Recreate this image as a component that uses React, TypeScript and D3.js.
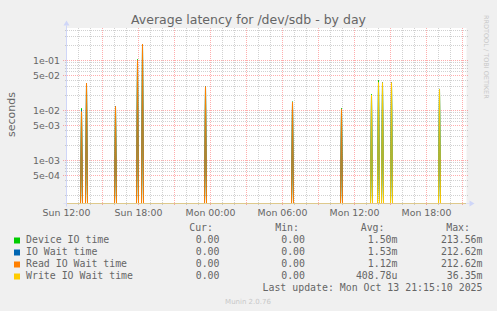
import React from "react";
import * as d3 from "d3";

// ---- data ----
const startTime = "2025-10-12T12:00";
const sampleMinutes = 5;
const sampleCount = 400;

const spikeTimes = [
  "2025-10-12T13:15", "2025-10-12T13:40", "2025-10-12T16:05", "2025-10-12T17:55",
  "2025-10-12T18:20", "2025-10-12T23:35", "2025-10-13T06:50", "2025-10-13T10:55",
  "2025-10-13T13:25", "2025-10-13T14:00", "2025-10-13T14:20", "2025-10-13T15:05",
  "2025-10-13T19:05",
];
const deviceIO = [0.011, 0.033, 0.012, 0.105, 0.2136, 0.030, 0.0150, 0.0110, 0.021, 0.040, 0.036, 0.036, 0.027];
const ioWait = [0.0100, 0.035, 0.012, 0.100, 0.2126, 0.030, 0.0148, 0.0107, 0.0204, 0.0364, 0.036, 0.036, 0.0265];
const readWait = [0.0095, 0.035, 0.012, 0.100, 0.2126, 0.030, 0.0148, 0.0107, 0, 0, 0, 0, 0];
const writeWait = [0, 0, 0, 0, 0, 0, 0, 0, 0.0204, 0.03635, 0.036, 0.036, 0.0265];

const seriesNames = ["Device IO time", "IO Wait time", "Read IO Wait time", "Write IO Wait time"];
const seriesColors = ["#00cc00", "#0066b3", "#ff8000", "#ffcc00"];
const curValues = ["0.00", "0.00", "0.00", "0.00"];
const minValues = ["0.00", "0.00", "0.00", "0.00"];
const avgValues = ["1.50m", "1.53m", "1.12m", "408.78u"];
const maxValues = ["213.56m", "212.62m", "212.62m", "36.35m"];

const xTickTimes = ["2025-10-12T12:00", "2025-10-12T18:00", "2025-10-13T00:00", "2025-10-13T06:00", "2025-10-13T12:00", "2025-10-13T18:00"];
const xTickLabels = ["Sun 12:00", "Sun 18:00", "Mon 00:00", "Mon 06:00", "Mon 12:00", "Mon 18:00"];
const yTickLabels = ["5e-04", "1e-03", "5e-03", "1e-02", "5e-02", "1e-01"];
const yMin = 1.38e-4;
const yMax = 0.4365;

const title = "Average latency for /dev/sdb - by day";
const yTitle = "seconds";
const lastUpdate = "Last update: Mon Oct 13 21:15:10 2025";
const version = "Munin 2.0.76";
const sideText = "RRDTOOL / TOBI OETIKER";

const FONT = "'DejaVu Sans', sans-serif";
const MONO = "'DejaVu Sans Mono', monospace";
const TXT = "#666666";
const MAJOR = "rgba(255,0,0,0.32)";
const MINOR = "rgba(140,140,140,0.4)";

export default function App() {
  const W = 497, H = 311;
  const left = 66.5, right = 466.5, top = 28.5, bottom = 203.5;
  const start = new Date(startTime);
  const end = new Date(start.getTime() + sampleCount * sampleMinutes * 60000);
  const x = d3.scaleTime().domain([start, end]).range([left, right]);
  const y = d3.scaleLog().domain([yMin, yMax]).range([bottom, top]).clamp(true);

  const sampleTimes = d3.range(sampleCount).map((i) => new Date(start.getTime() + i * sampleMinutes * 60000));
  const spikeMs = spikeTimes.map((s) => new Date(s).getTime());
  const allSeries = [deviceIO, ioWait, readWait, writeWait].map((vals) => {
    const m = new Map<number, number>();
    spikeMs.forEach((t, k) => m.set(t, vals[k]));
    return sampleTimes.map((t) => ({ t, v: m.get(t.getTime()) ?? 0 }));
  });

  const line = d3
    .line<{ t: Date; v: number }>()
    .x((d) => x(d.t))
    .y((d) => (d.v > 0 ? y(d.v) : bottom));

  // grid
  const hours = d3.timeHour.every(1)!.range(new Date(start.getTime() + 1), end);
  const yGrid: { v: number; major: boolean }[] = [];
  for (let e = -5; e <= 0; e++) {
    for (let k = 1; k <= 9; k++) {
      const v = k * Math.pow(10, e);
      if (v >= yMin && v <= yMax) yGrid.push({ v, major: k === 1 || k === 5 });
    }
  }
  const snap = (p: number) => Math.round(p - 0.5) + 0.5;

  const legendY0 = 243;
  const rowH = 12;

  return (
    <div style={{ position: "fixed", left: 0, top: 0, width: W, height: H }}>
      <svg width={W} height={H} viewBox={`0 0 ${W} ${H}`} style={{ display: "block" }}>
        <rect x={0} y={0} width={W} height={H} fill="#f0f0f0" />
        <rect x={left} y={top - 0.5} width={right - left} height={bottom - top + 0.5} fill="#ffffff" />

        {/* title */}
        <text x={W / 2} y={23.5} textAnchor="middle" fontFamily={FONT} fontSize={12.5} fill={TXT}>
          {title}
        </text>

        {/* side text */}
        <text transform={`translate(484,15) rotate(90)`} fontFamily={FONT} fontSize={6.5} fill="#c8c8c8">
          {sideText}
        </text>

        {/* vertical grid */}
        {hours.map((h, i) => {
          const major = h.getHours() % 3 === 0;
          const px = snap(x(h));
          return (
            <line
              key={"vg" + i}
              x1={px}
              x2={px}
              y1={top - 0.5}
              y2={major ? bottom + 2.5 : bottom + 1.5}
              stroke={major ? MAJOR : MINOR}
              strokeWidth={1}
              strokeDasharray="1,1"
            />
          );
        })}
        {/* horizontal grid */}
        {yGrid.map((g, i) => {
          const py = snap(y(g.v));
          return (
            <line
              key={"hg" + i}
              x1={g.major ? 63 : 65}
              x2={468}
              y1={py}
              y2={py}
              stroke={g.major ? MAJOR : MINOR}
              strokeWidth={1}
              strokeDasharray="1,1"
            />
          );
        })}

        {/* series */}
        {allSeries.map((s, i) => (
          <path key={"s" + i} d={line(s) || ""} fill="none" stroke={seriesColors[i]} strokeWidth={1} />
        ))}

        {/* axes */}
        <line x1={left - 3} x2={right + 3} y1={bottom} y2={bottom} stroke="#cfd6f8" strokeOpacity={0.55} />
        <path d={`M${right + 3},${bottom - 3} L${right + 8},${bottom} L${right + 3},${bottom + 3} Z`} fill="#cfd6f8" />
        <line x1={left} x2={left} y1={bottom + 3} y2={top - 3} stroke="#cfd6f8" />
        <path d={`M${left - 3},${top - 3} L${left},${top - 8} L${left + 3},${top - 3} Z`} fill="#cfd6f8" />

        {/* x tick labels */}
        {xTickTimes.map((t, i) => (
          <text key={"xt" + i} x={x(new Date(t))} y={216} textAnchor="middle" fontFamily={FONT} fontSize={9.4} fill={TXT}>
            {xTickLabels[i]}
          </text>
        ))}
        {/* y tick labels */}
        {yTickLabels.map((l, i) => (
          <text key={"yt" + i} x={60} y={y(Number(l)) + 3.5} textAnchor="end" fontFamily={FONT} fontSize={9.4} fill={TXT}>
            {l}
          </text>
        ))}
        <text transform={`translate(15,114.5) rotate(-90)`} textAnchor="middle" fontFamily={FONT} fontSize={11} fill={TXT}>
          {yTitle}
        </text>

        {/* legend */}
        <g fontFamily={MONO} fontSize={9.9} fill={TXT}>
          <text x={213} y={legendY0 - rowH} textAnchor="end">Cur:</text>
          <text x={299} y={legendY0 - rowH} textAnchor="end">Min:</text>
          <text x={384.5} y={legendY0 - rowH} textAnchor="end">Avg:</text>
          <text x={470} y={legendY0 - rowH} textAnchor="end">Max:</text>
          {seriesNames.map((n, i) => (
            <g key={"lg" + i}>
              <rect x={14} y={legendY0 - 5 + i * rowH - 0.5} width={6} height={6} fill={seriesColors[i]} />
              <text x={26} y={legendY0 + i * rowH}>{n}</text>
              <text x={219.5} y={legendY0 + i * rowH} textAnchor="end">{curValues[i]}</text>
              <text x={305} y={legendY0 + i * rowH} textAnchor="end">{minValues[i]}</text>
              <text x={397.5} y={legendY0 + i * rowH} textAnchor="end">{avgValues[i]}</text>
              <text x={482.5} y={legendY0 + i * rowH} textAnchor="end">{maxValues[i]}</text>
            </g>
          ))}
          <text x={482.5} y={legendY0 + 4 * rowH} textAnchor="end">{lastUpdate}</text>
        </g>
        <text x={248} y={303.5} textAnchor="middle" fontFamily={FONT} fontSize={7} fill="#c8c8c8">
          {version}
        </text>
      </svg>
    </div>
  );
}
